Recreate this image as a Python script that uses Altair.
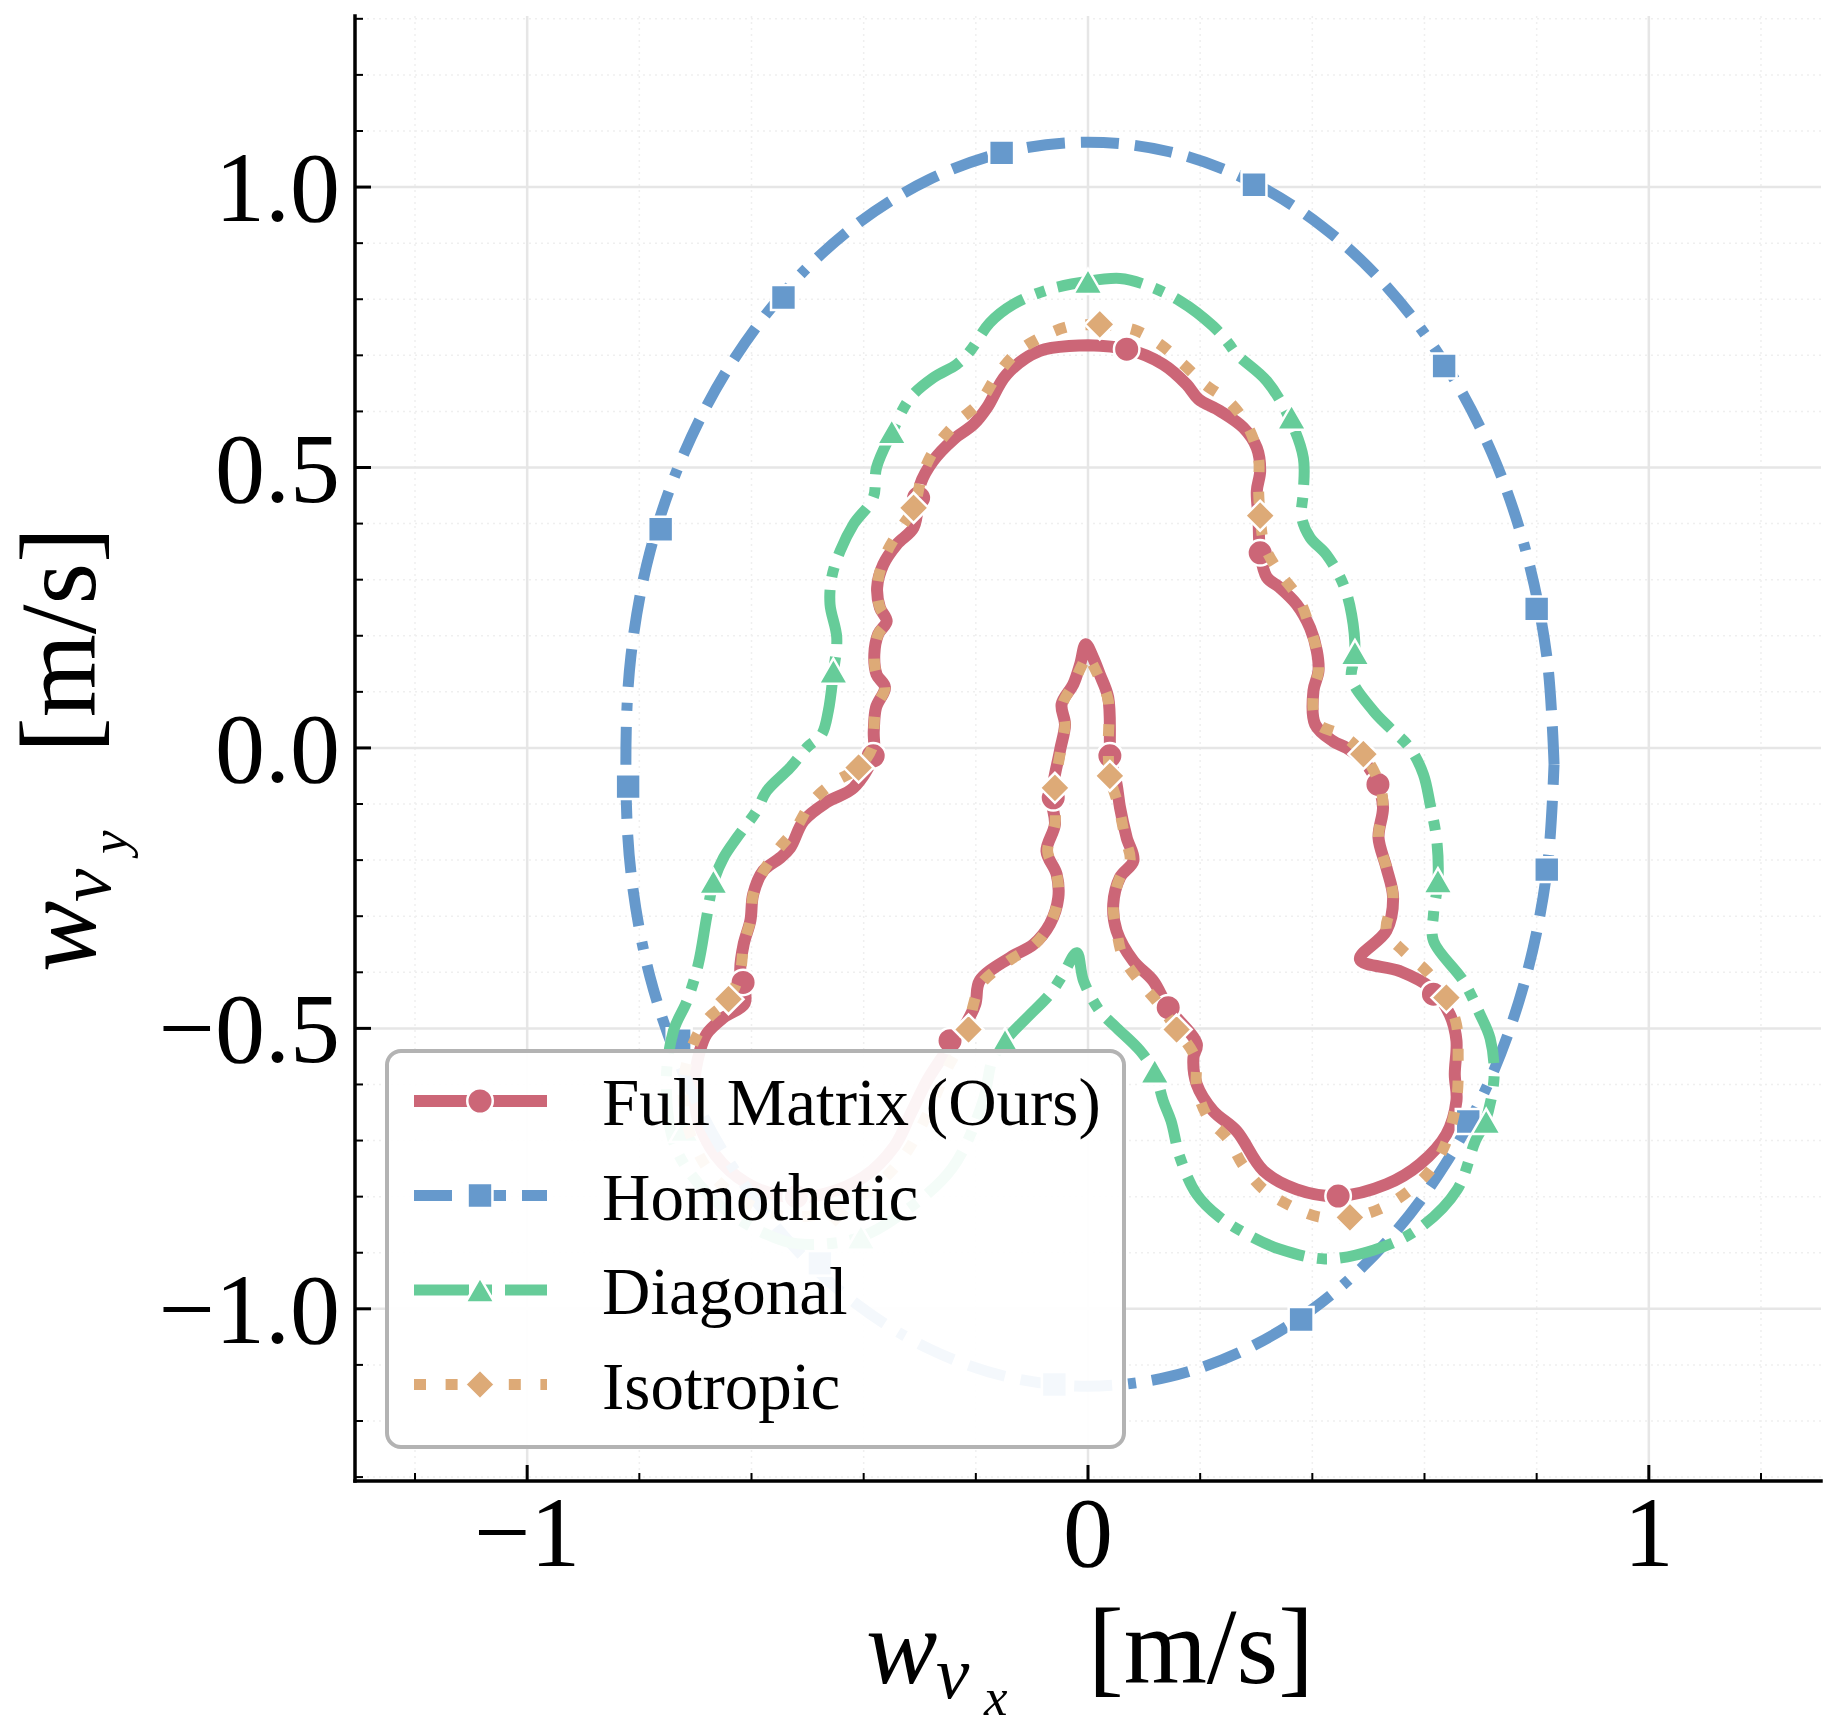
import altair as alt
import pandas as pd

# ---------------- data ----------------
LABELS = ["Full Matrix (Ours)", "Homothetic", "Diagonal", "Isotropic"]

RED_PTS = [(0.000, 0.718), (0.069, 0.711), (0.134, 0.684), (0.176, 0.648), (0.197, 0.622), (0.235, 0.601),
           (0.277, 0.571), (0.301, 0.535), (0.307, 0.494), (0.301, 0.458), (0.304, 0.411), (0.307, 0.348),
           (0.319, 0.304), (0.342, 0.286), (0.372, 0.256), (0.396, 0.214), (0.408, 0.173), (0.411, 0.137),
           (0.402, 0.102), (0.405, 0.042), (0.437, 0.012), (0.461, 0.000), (0.491, -0.023), (0.517, -0.065),
           (0.526, -0.106), (0.518, -0.160), (0.532, -0.213), (0.544, -0.267), (0.532, -0.326), (0.485, -0.377),
           (0.556, -0.398), (0.610, -0.427), (0.645, -0.475), (0.657, -0.522), (0.654, -0.582), (0.657, -0.629),
           (0.639, -0.689), (0.592, -0.742), (0.532, -0.778), (0.446, -0.799), (0.372, -0.787), (0.313, -0.754),
           (0.265, -0.683), (0.223, -0.647), (0.194, -0.600), (0.188, -0.552), (0.194, -0.528), (0.143, -0.463),
           (0.116, -0.415), (0.081, -0.380), (0.051, -0.326), (0.045, -0.279), (0.057, -0.231), (0.081, -0.201),
           (0.069, -0.160), (0.057, -0.106), (0.051, -0.065), (0.039, -0.014), (0.039, 0.007), (0.036, 0.090),
           (0.021, 0.131), (0.009, 0.161), (-0.004, 0.185), (-0.014, 0.149), (-0.026, 0.114), (-0.047, 0.078),
           (-0.041, 0.042), (-0.050, -0.005), (-0.065, -0.089), (-0.059, -0.136), (-0.074, -0.184), (-0.056, -0.225),
           (-0.053, -0.267), (-0.068, -0.314), (-0.097, -0.350), (-0.139, -0.374), (-0.193, -0.415), (-0.201, -0.457),
           (-0.222, -0.499), (-0.252, -0.540), (-0.285, -0.590), (-0.315, -0.650), (-0.345, -0.710), (-0.400, -0.765),
           (-0.470, -0.795), (-0.540, -0.800), (-0.610, -0.775), (-0.665, -0.725), (-0.695, -0.665), (-0.702, -0.600),
           (-0.692, -0.540), (-0.680, -0.510), (-0.650, -0.481), (-0.612, -0.455), (-0.615, -0.418), (-0.620, -0.398),
           (-0.614, -0.350), (-0.602, -0.308), (-0.597, -0.261), (-0.579, -0.219), (-0.549, -0.196), (-0.531, -0.178),
           (-0.507, -0.130), (-0.466, -0.097), (-0.418, -0.071), (-0.383, -0.014), (-0.382, 0.030), (-0.378, 0.072),
           (-0.362, 0.108), (-0.377, 0.131), (-0.381, 0.167), (-0.374, 0.203), (-0.359, 0.226), (-0.371, 0.250),
           (-0.376, 0.286), (-0.365, 0.327), (-0.341, 0.363), (-0.311, 0.393), (-0.302, 0.446), (-0.299, 0.470),
           (-0.276, 0.512), (-0.240, 0.550), (-0.204, 0.577), (-0.180, 0.607), (-0.145, 0.666), (-0.086, 0.708),
           (0.000, 0.718)]

BLUE_PTS = [(0.831, -0.029), (0.818, 0.164), (0.781, 0.350), (0.720, 0.526), (0.637, 0.684), (0.534, 0.821),
            (0.416, 0.931), (0.284, 1.013), (0.145, 1.063), (0.000, 1.080), (-0.145, 1.063), (-0.284, 1.013),
            (-0.416, 0.931), (-0.534, 0.821), (-0.637, 0.684), (-0.720, 0.526), (-0.781, 0.350), (-0.815, 0.164),
            (-0.824, -0.029), (-0.815, -0.222), (-0.781, -0.408), (-0.720, -0.584), (-0.637, -0.742), (-0.534, -0.879),
            (-0.416, -0.989), (-0.284, -1.071), (-0.145, -1.121), (0.000, -1.138), (0.145, -1.121), (0.284, -1.071),
            (0.416, -0.989), (0.534, -0.879), (0.637, -0.742), (0.720, -0.584), (0.781, -0.408), (0.818, -0.222),
            (0.831, -0.029)]

GREEN_PTS = [(0.000, 0.832), (0.057, 0.837), (0.099, 0.827), (0.164, 0.797), (0.223, 0.752), (0.250, 0.722),
             (0.265, 0.702), (0.319, 0.654), (0.360, 0.586), (0.384, 0.517), (0.384, 0.458), (0.381, 0.411),
             (0.396, 0.375), (0.425, 0.345), (0.455, 0.292), (0.470, 0.238), (0.476, 0.167), (0.470, 0.124),
             (0.509, 0.066), (0.538, 0.036), (0.574, 0.000), (0.598, -0.047), (0.610, -0.100), (0.622, -0.166),
             (0.624, -0.237), (0.616, -0.297), (0.616, -0.344), (0.669, -0.415), (0.699, -0.475), (0.717, -0.518),
             (0.724, -0.588), (0.708, -0.667), (0.691, -0.700), (0.658, -0.788), (0.590, -0.857), (0.510, -0.895),
             (0.422, -0.911), (0.340, -0.893), (0.295, -0.873), (0.235, -0.837), (0.194, -0.796), (0.164, -0.730),
             (0.148, -0.665), (0.134, -0.629), (0.119, -0.579), (0.093, -0.540), (0.051, -0.499), (0.021, -0.469),
             (-0.008, -0.415), (-0.020, -0.365), (-0.044, -0.403), (-0.068, -0.439), (-0.109, -0.481), (-0.148, -0.522),
             (-0.170, -0.555), (-0.187, -0.629), (-0.242, -0.749), (-0.333, -0.831), (-0.405, -0.872), (-0.480, -0.885),
             (-0.542, -0.879), (-0.651, -0.820), (-0.733, -0.718), (-0.752, -0.600), (-0.739, -0.504), (-0.715, -0.451),
             (-0.695, -0.386), (-0.680, -0.302), (-0.668, -0.240), (-0.650, -0.196), (-0.626, -0.160), (-0.591, -0.112),
             (-0.573, -0.077), (-0.531, -0.035), (-0.501, 0.001), (-0.475, 0.024), (-0.463, 0.066), (-0.454, 0.134),
             (-0.448, 0.197), (-0.460, 0.256), (-0.457, 0.304), (-0.442, 0.351), (-0.418, 0.399), (-0.383, 0.446),
             (-0.377, 0.500), (-0.350, 0.562), (-0.317, 0.624), (-0.276, 0.660), (-0.234, 0.684), (-0.210, 0.708),
             (-0.175, 0.758), (-0.133, 0.791), (-0.068, 0.818), (0.000, 0.832)]

ORANGE_PTS = [(0.021, 0.755), (0.081, 0.746), (0.128, 0.720), (0.170, 0.684), (0.209, 0.648), (0.253, 0.616),
              (0.286, 0.571), (0.304, 0.517), (0.304, 0.464), (0.307, 0.414), (0.315, 0.360), (0.342, 0.312),
              (0.375, 0.268), (0.396, 0.214), (0.408, 0.173), (0.411, 0.137), (0.402, 0.102), (0.408, 0.045),
              (0.455, 0.022), (0.491, -0.011), (0.520, -0.065), (0.526, -0.106), (0.518, -0.160), (0.532, -0.213),
              (0.544, -0.267), (0.532, -0.326), (0.562, -0.362), (0.604, -0.398), (0.639, -0.445), (0.657, -0.493),
              (0.660, -0.550), (0.657, -0.629), (0.636, -0.709), (0.607, -0.757), (0.568, -0.793), (0.520, -0.822),
              (0.467, -0.837), (0.411, -0.836), (0.360, -0.816), (0.313, -0.787), (0.277, -0.745), (0.250, -0.698),
              (0.214, -0.659), (0.194, -0.606), (0.191, -0.552), (0.158, -0.502), (0.125, -0.455), (0.096, -0.421),
              (0.063, -0.374), (0.051, -0.326), (0.045, -0.279), (0.057, -0.231), (0.075, -0.201), (0.066, -0.160),
              (0.055, -0.106), (0.039, -0.050), (0.036, 0.000), (0.036, 0.085), (0.020, 0.125), (0.008, 0.150),
              (0.000, 0.165), (-0.012, 0.145), (-0.026, 0.114), (-0.045, 0.078), (-0.041, 0.042), (-0.048, 0.000),
              (-0.059, -0.071), (-0.059, -0.136), (-0.072, -0.184), (-0.056, -0.225), (-0.053, -0.267), (-0.068, -0.314),
              (-0.097, -0.352), (-0.139, -0.378), (-0.190, -0.420), (-0.205, -0.460), (-0.213, -0.502), (-0.250, -0.570),
              (-0.285, -0.650), (-0.330, -0.730), (-0.390, -0.790), (-0.465, -0.828), (-0.540, -0.835), (-0.615, -0.808),
              (-0.675, -0.755), (-0.712, -0.680), (-0.722, -0.600), (-0.705, -0.530), (-0.680, -0.485), (-0.641, -0.448),
              (-0.620, -0.398), (-0.614, -0.350), (-0.602, -0.308), (-0.597, -0.261), (-0.585, -0.231), (-0.555, -0.184),
              (-0.522, -0.145), (-0.493, -0.097), (-0.454, -0.062), (-0.409, -0.035), (-0.385, 0.000), (-0.382, 0.030),
              (-0.378, 0.072), (-0.362, 0.108), (-0.377, 0.131), (-0.381, 0.167), (-0.374, 0.203), (-0.359, 0.226),
              (-0.371, 0.250), (-0.376, 0.286), (-0.362, 0.342), (-0.335, 0.390), (-0.311, 0.428), (-0.294, 0.491),
              (-0.270, 0.538), (-0.234, 0.580), (-0.193, 0.616), (-0.163, 0.663), (-0.127, 0.705), (-0.080, 0.734),
              (-0.032, 0.752), (0.021, 0.755)]

RED_MARKS = [(0.069, 0.711), (0.307, 0.348), (0.517, -0.065), (0.616, -0.439), (0.446, -0.799), (0.143, -0.463),
             (0.039, -0.014), (-0.062, -0.089), (-0.246, -0.522), (-0.520, -0.800), (-0.615, -0.418),
             (-0.383, -0.014), (-0.302, 0.446)]
BLUE_MARKS = [(-0.154, 1.061), (0.296, 1.004), (0.635, 0.681), (0.800, 0.248), (0.818, -0.217), (0.678, -0.666),
              (0.380, -1.019), (-0.060, -1.135), (-0.478, -0.919), (-0.729, -0.522), (-0.820, -0.069),
              (-0.762, 0.390), (-0.543, 0.803)]
GREEN_MARKS = [(0.000, 0.832), (0.363, 0.590), (0.476, 0.170), (0.624, -0.237), (0.710, -0.666), (0.119, -0.576),
               (-0.148, -0.522), (-0.405, -0.872), (-0.720, -0.680), (-0.668, -0.238), (-0.454, 0.137),
               (-0.350, 0.564)]
ORANGE_MARKS = [(0.021, 0.755), (0.307, 0.414), (0.491, -0.011), (0.639, -0.445), (0.467, -0.837), (0.158, -0.502),
                (0.039, -0.050), (-0.059, -0.071), (-0.213, -0.502), (-0.450, -0.830), (-0.641, -0.448),
                (-0.409, -0.035), (-0.311, 0.428)]

X_TICKS = [-1, 0, 1]
X_TICK_LABELS = ["\u22121", "0", "1"]
X_MINOR = [-1.2, -0.8, -0.6, -0.4, -0.2, 0.2, 0.4, 0.6, 0.8, 1.2]
Y_TICKS = [-1.0, -0.5, 0.0, 0.5, 1.0]
Y_TICK_LABELS = ["\u22121.0", "\u22120.5", "0.0", "0.5", "1.0"]
Y_MINOR = [-1.3, -1.2, -1.1, -0.9, -0.8, -0.7, -0.6, -0.4, -0.3, -0.2, -0.1,
           0.1, 0.2, 0.3, 0.4, 0.6, 0.7, 0.8, 0.9, 1.1, 1.2, 1.3]

# ---------------- styling / layout ----------------
SERIF = "Liberation Serif"
W, H = 1466, 1465
XDOM = [-1.307, 1.307]
YDOM = [-1.307, 1.305]
xs = alt.Scale(domain=XDOM, nice=False, zero=False)
ys = alt.Scale(domain=YDOM, nice=False, zero=False)

SERIES = [
    (LABELS[0], RED_PTS, RED_MARKS, dict(color="#CC6677", dash=None, width=12, shape="circle", msize=650)),
    (LABELS[1], BLUE_PTS, BLUE_MARKS, dict(color="#6699CC", dash=[38, 16, 38, 16, 38, 16, 38, 16, 8, 16],
                                           width=11, shape="square", msize=620)),
    (LABELS[2], GREEN_PTS, GREEN_MARKS, dict(color="#66CC99", dash=[55, 13, 10, 13], width=11,
                                             shape="triangle-up", msize=850)),
    (LABELS[3], ORANGE_PTS, ORANGE_MARKS, dict(color="#DDAA77", dash=[12, 19.6], width=11,
                                               shape="diamond", msize=900)),
]


def pts_df(pts):
    return pd.DataFrame({"x": [p[0] for p in pts], "y": [p[1] for p in pts], "i": list(range(len(pts)))})


def enc_xy():
    return dict(x=alt.X("x:Q", scale=xs, axis=None), y=alt.Y("y:Q", scale=ys, axis=None))


one = pd.DataFrame({"k": [0]})
layers = []

# grid
GRID_C = "#e6e6e6"
layers.append(alt.Chart(pd.DataFrame({"v": X_MINOR})).mark_rule(color="#efefef", strokeWidth=1.5, strokeDash=[2, 4])
              .encode(x=alt.X("v:Q", scale=xs, axis=None)))
layers.append(alt.Chart(pd.DataFrame({"v": Y_MINOR})).mark_rule(color="#efefef", strokeWidth=1.5, strokeDash=[2, 4])
              .encode(y=alt.Y("v:Q", scale=ys, axis=None)))
layers.append(alt.Chart(pd.DataFrame({"v": X_TICKS})).mark_rule(color=GRID_C, strokeWidth=2.5)
              .encode(x=alt.X("v:Q", scale=xs, axis=None)))
layers.append(alt.Chart(pd.DataFrame({"v": Y_TICKS})).mark_rule(color=GRID_C, strokeWidth=2.5)
              .encode(y=alt.Y("v:Q", scale=ys, axis=None)))

# curves + markers
for name, pts, marks, st in SERIES:
    line_kw = dict(color=st["color"], strokeWidth=st["width"], strokeJoin="round", interpolate="catmull-rom",
                   strokeCap="round" if st["dash"] is None else "butt")
    if st["dash"] is not None:
        line_kw["strokeDash"] = st["dash"]
    layers.append(alt.Chart(pts_df(pts)).mark_line(**line_kw).encode(order="i:Q", **enc_xy()))
    layers.append(alt.Chart(pts_df(marks)).mark_point(shape=st["shape"], size=st["msize"], filled=True,
                                                       fill=st["color"], stroke="white", strokeWidth=2.5,
                                                       opacity=1, fillOpacity=1, strokeOpacity=1)
                  .encode(**enc_xy()))

# legend box
layers.append(alt.Chart(one).mark_rect(fill="white", fillOpacity=0.93, stroke="#b3b3b3", strokeWidth=4,
                                       cornerRadius=14)
              .encode(x=alt.value(32), x2=alt.value(769), y=alt.value(1035), y2=alt.value(1431)))
for k, (name, pts, marks, st) in enumerate(SERIES):
    yk = 1085 + k * 94.5
    rule_kw = dict(color=st["color"], strokeWidth=st["width"], strokeCap="butt")
    if st["dash"] is not None:
        rule_kw["strokeDash"] = st["dash"]
    layers.append(alt.Chart(one).mark_rule(**rule_kw)
                  .encode(x=alt.value(59), x2=alt.value(192), y=alt.value(yk)))
    layers.append(alt.Chart(one).mark_point(shape=st["shape"], size=st["msize"], filled=True, fill=st["color"],
                                            stroke="white", strokeWidth=2.5, opacity=1)
                  .encode(x=alt.value(125), y=alt.value(yk)))
    layers.append(alt.Chart(one).mark_text(text=name, font=SERIF, fontSize=67, align="left",
                                           baseline="alphabetic", color="black")
                  .encode(x=alt.value(247), y=alt.value(yk + 24)))

# spines (left and bottom)
layers.append(alt.Chart(one).mark_rule(color="black", strokeWidth=3.5, strokeCap="square")
              .encode(x=alt.value(0), y=alt.value(0), y2=alt.value(H)))
layers.append(alt.Chart(one).mark_rule(color="black", strokeWidth=3.5, strokeCap="square")
              .encode(x=alt.value(0), x2=alt.value(W), y=alt.value(H)))

# inward ticks
layers.append(alt.Chart(pd.DataFrame({"v": X_TICKS})).mark_rule(color="black", strokeWidth=3)
              .encode(x=alt.X("v:Q", scale=xs, axis=None), y=alt.value(H), y2=alt.value(H - 16)))
layers.append(alt.Chart(pd.DataFrame({"v": X_MINOR})).mark_rule(color="black", strokeWidth=2)
              .encode(x=alt.X("v:Q", scale=xs, axis=None), y=alt.value(H), y2=alt.value(H - 8)))
layers.append(alt.Chart(pd.DataFrame({"v": Y_TICKS})).mark_rule(color="black", strokeWidth=3)
              .encode(y=alt.Y("v:Q", scale=ys, axis=None), x=alt.value(0), x2=alt.value(16)))
layers.append(alt.Chart(pd.DataFrame({"v": Y_MINOR})).mark_rule(color="black", strokeWidth=2)
              .encode(y=alt.Y("v:Q", scale=ys, axis=None), x=alt.value(0), x2=alt.value(8)))

# tick labels
layers.append(alt.Chart(pd.DataFrame({"v": X_TICKS, "t": X_TICK_LABELS}))
              .mark_text(font=SERIF, fontSize=100, align="center", baseline="alphabetic", color="black")
              .encode(x=alt.X("v:Q", scale=xs, axis=None), y=alt.value(1550), text="t:N"))
layers.append(alt.Chart(pd.DataFrame({"v": Y_TICKS, "t": Y_TICK_LABELS}))
              .mark_text(font=SERIF, fontSize=100, align="right", baseline="alphabetic", color="black", dy=34)
              .encode(y=alt.Y("v:Q", scale=ys, axis=None), x=alt.value(-15), text="t:N"))

# axis titles  w_{v_x} [m/s]  and  w_{v_y} [m/s]
def txt(t, x, y, size, italic=False, angle=0):
    kw = dict(text=t, font=SERIF, fontSize=size, align="left", baseline="alphabetic", color="black")
    if italic:
        kw["fontStyle"] = "italic"
    if angle:
        kw["angle"] = angle
    return alt.Chart(one).mark_text(**kw).encode(x=alt.value(x), y=alt.value(y))

layers += [
    txt("w", 511, 1667, 107, True),
    txt("v", 581, 1682, 75, True),
    txt("x", 629, 1699, 53, True),
    txt("[m/s]", 733, 1667, 107),
    txt("w", -260, 956, 107, True, 270),
    txt("v", -245, 886, 75, True, 270),
    txt("y", -228, 838, 53, True, 270),
    txt("[m/s]", -260, 737, 107, False, 270),
]

chart = alt.layer(*layers).properties(
    width=W, height=H,
    padding={"left": 355, "top": 16, "right": 15, "bottom": 253},
    autosize=alt.AutoSizeParams(type="none"),
    background="white",
).configure_view(stroke=None)

chart.save("out.html", embed_options={"renderer": "svg", "actions": False})
